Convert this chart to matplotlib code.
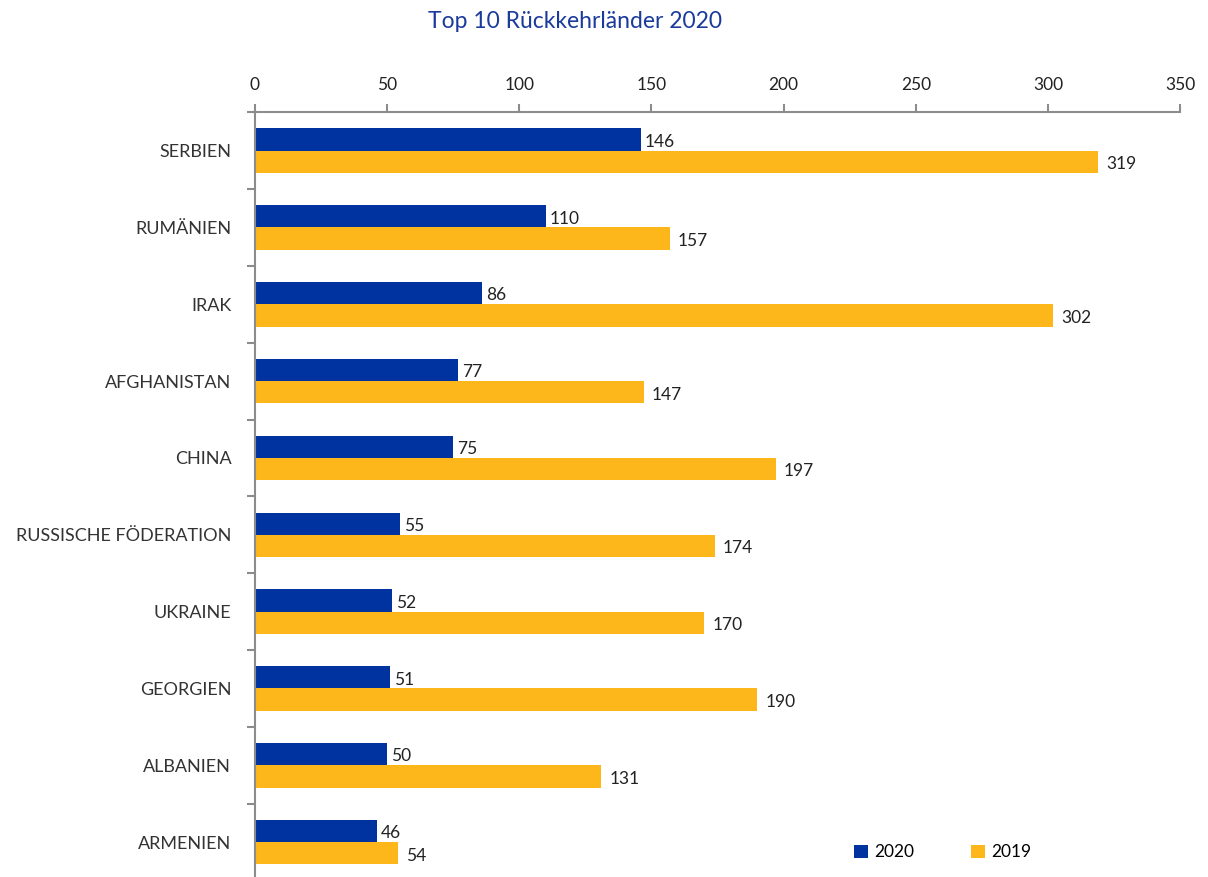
import numpy as np
import matplotlib.pyplot as plt

plt.rcParams['font.family'] = ['Lato', 'DejaVu Sans']

laender = ["SERBIEN", "RUMÄNIEN", "IRAK", "AFGHANISTAN", "CHINA",
           "RUSSISCHE FÖDERATION", "UKRAINE", "GEORGIEN", "ALBANIEN", "ARMENIEN"]
werte_2020 = [146, 110, 86, 77, 75, 55, 52, 51, 50, 46]
werte_2019 = [319, 157, 302, 147, 197, 174, 170, 190, 131, 54]

blau = "#0033a0"
gelb = "#fdb71a"
grau = "#8c8c8c"

fig = plt.figure(figsize=(12.08, 8.77), dpi=100)
ax = fig.add_axes([0.211, -0.004, 0.766, 0.876])

y = np.arange(len(laender))
h = 0.29
b1 = ax.barh(y - h / 2, werte_2020, height=h, color=blau, label="2020")
b2 = ax.barh(y + h / 2, werte_2019, height=h, color=gelb, label="2019")

for bars, off in ((b1, 1.5), (b2, 3.0)):
    for r in bars:
        ax.text(r.get_width() + off, r.get_y() + r.get_height() / 2 + 0.03,
                str(int(r.get_width())), va="center", ha="left",
                fontsize=12.5, color="#222222")

ax.set_xlim(0, 350)
ax.set_ylim(len(laender) - 0.5, -0.5)
ax.set_xticks(range(0, 351, 50))
ax.xaxis.tick_top()
ax.tick_params(axis="x", colors=grau, labelcolor="#222222", labelsize=12.5,
               length=6, width=1.5, pad=8)
ax.set_yticks(y)
ax.set_yticklabels(laender)
ax.set_yticks(np.arange(-0.5, len(laender), 1), minor=True)
ax.tick_params(axis="y", which="major", length=0, labelsize=13,
               labelcolor="#333333", pad=17)
ax.tick_params(axis="y", which="minor", length=6, width=1.5, color=grau)

for s in ("right", "bottom"):
    ax.spines[s].set_visible(False)
for s in ("top", "left"):
    ax.spines[s].set_color(grau)
    ax.spines[s].set_linewidth(1.5)

ax.legend(loc="lower right", bbox_to_anchor=(0.856, 0.006), ncol=2, frameon=False,
          fontsize=12.5, handlelength=0.8, handleheight=0.8, columnspacing=3.3,
          handletextpad=0.35)

fig.text(0.476, 0.975, "Top 10 Rückkehrländer 2020", ha="center", va="center",
         fontsize=16.5, color="#1a3a9c")

fig.savefig("out.png", dpi=100)
